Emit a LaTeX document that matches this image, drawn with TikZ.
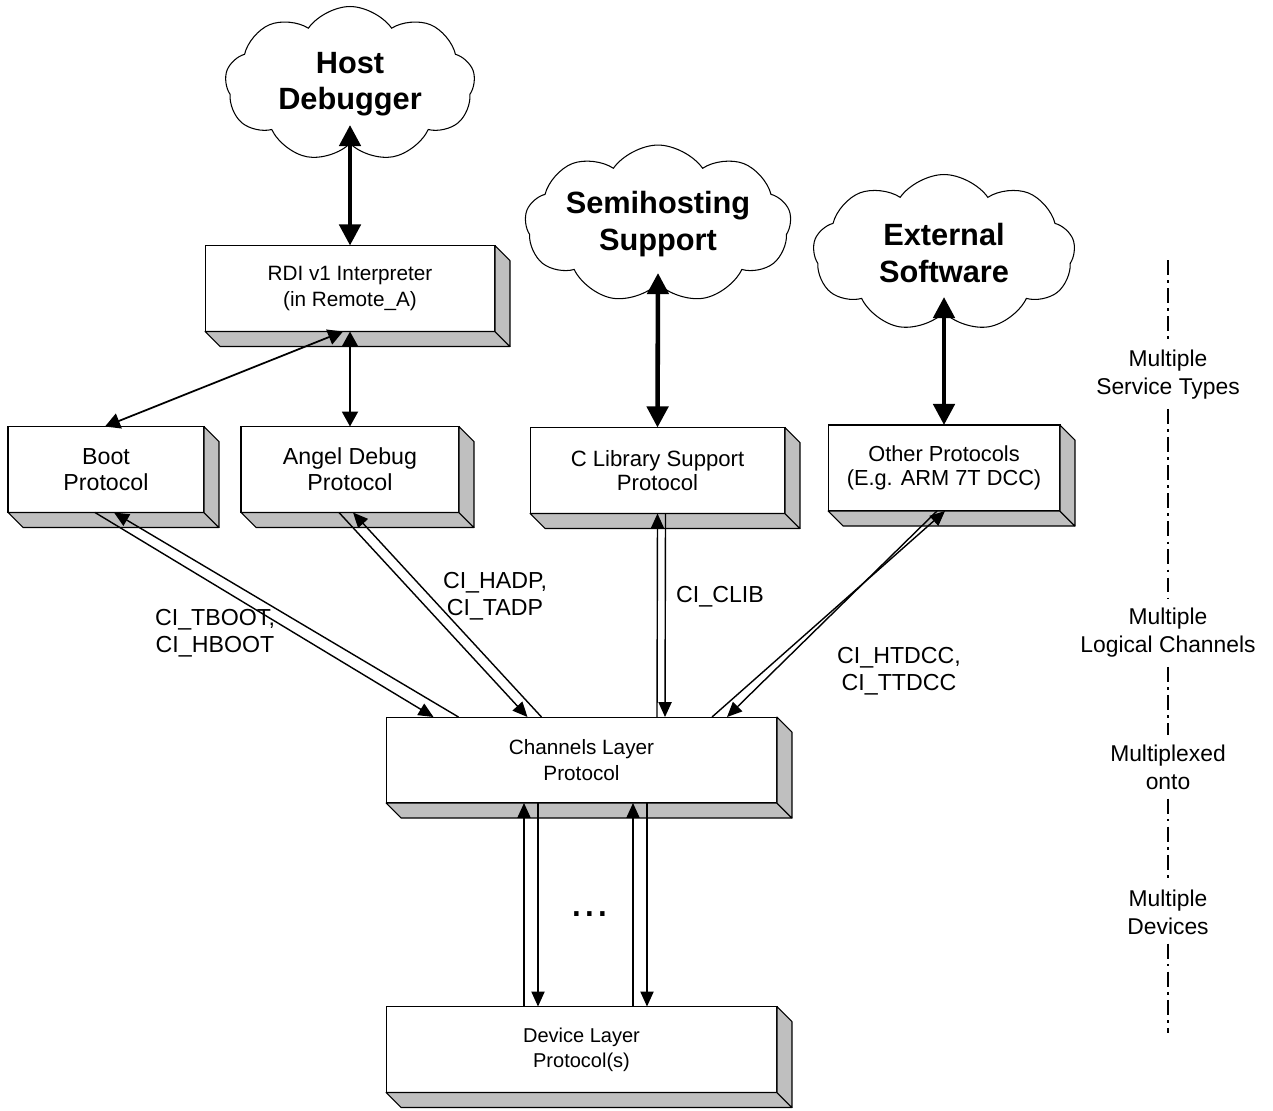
\documentclass[tikz,border=0pt]{standalone}
\usepackage{fontspec}
\setmainfont{Liberation Sans}
\usepackage{tikz}
\usetikzlibrary{shapes.symbols, arrows.meta}
\tikzset{
layerbox/.style={draw, fill=white, line width=0.6pt, outer sep=0pt, minimum height=1.72cm, align=center, font=\fontsize{11.8}{14.4}\selectfont}, % white front face of a protocol box
sideface/.style={draw, fill=black!25, line width=0.6pt, line join=round}, % grey bottom and right faces
cloudnode/.style={cloud, draw, cloud puffs=9, cloud puff arc=110, aspect=1.7, inner sep=0pt, line width=0.6pt, align=center, font=\fontsize{17.5}{20.6}\selectfont\bfseries}, % host side software
bigarrow/.style={{Triangle[length=12pt,width=12pt]}-{Triangle[length=12pt,width=12pt]}, line width=2.6pt},
duplex/.style={{Triangle[length=8.5pt,width=9pt]}-{Triangle[length=8.5pt,width=9pt]}, line width=1pt},
channel/.style={-{Triangle[length=8.5pt,width=7.5pt]}, line width=0.8pt}, % one direction of a logical channel
chlabel/.style={align=center, font=\fontsize{13.2}{15.6}\selectfont},
layername/.style={align=center, inner sep=5pt, font=\fontsize{13}{16}\selectfont},
dashdot line/.style={line width=0.9pt, dash pattern=on 8.5pt off 3pt on 1.5pt off 3pt},
}
\begin{document}
\begin{tikzpicture}[x=0.02cm, y=-0.02cm]
\useasboundingbox (0,0) rectangle (1273,1110);

\node[cloudnode, minimum width=5cm, minimum height=3.1cm] (host) at (350,84) {Host\\Debugger};
\node[cloudnode, aspect=2.2, minimum width=5.2cm, minimum height=2.9cm] (semi) at (658,224) {Semihosting\\Support};
\node[cloudnode, minimum width=5.24cm, minimum height=3.14cm] (ext) at (944,253) {External\\Software};

\node[layerbox, minimum width=5.8cm] (rdi) at (350,288.5) {RDI v1 Interpreter\\(in Remote\_A)};
\node[layerbox, minimum width=3.92cm, font=\fontsize{13.2}{15}\selectfont] (boot) at (106,469.5) {Boot\\Protocol};
\node[layerbox, minimum width=4.36cm, font=\fontsize{13.2}{15}\selectfont] (angel) at (350,469.5) {Angel Debug\\Protocol};
\node[layerbox, minimum width=5.1cm, font=\fontsize{12.6}{14}\selectfont] (clib) at (657.5,470.5) {C Library Support\\Protocol};
\node[layerbox, minimum width=4.64cm, font=\fontsize{12.4}{14}\selectfont] (other) at (944,468) {Other Protocols\\(E.g. ARM 7T DCC)};
\node[layerbox, minimum width=7.82cm] (chan) at (581.5,760) {Channels Layer\\Protocol};
\node[layerbox, minimum width=7.82cm, font=\fontsize{11.4}{14.2}\selectfont] (dev) at (581.5,1049.5) {Device Layer\\Protocol(s)};

\foreach \n in {rdi,boot,angel,clib,other,chan,dev} {
  \draw[sideface] (\n.south west) -- ([shift={(15,15)}]\n.south west) -- ([shift={(15,15)}]\n.south east) -- (\n.south east) -- cycle;
  \draw[sideface] (\n.north east) -- ([shift={(15,15)}]\n.north east) -- ([shift={(15,15)}]\n.south east) -- (\n.south east) -- cycle;
}

\draw[bigarrow] ([shift={(0,41)}]host.center) -- (rdi.north);
\draw[bigarrow] ([shift={(0,49)}]semi.center) -- (clib.north);
\draw[bigarrow] ([shift={(0,44)}]ext.center) -- (other.north);

\draw[duplex] ([shift={(-7,0)}]rdi.south) -- ([shift={(-1,0)}]boot.north);
\draw[duplex, line width=1.4pt] (rdi.south) -- (angel.north);

\draw[channel] ([shift={(-11,0)}]boot.south) -- ([shift={(-148,0)}]chan.north);
\draw[channel] ([shift={(-123,0)}]chan.north) -- ([shift={(8,0)}]boot.south);
\draw[channel] ([shift={(-11,0)}]angel.south) -- ([shift={(-54,0)}]chan.north);
\draw[channel] ([shift={(-40,0)}]chan.north) -- ([shift={(3,0)}]angel.south);
\draw[channel] ([shift={(75.5,0)}]chan.north) -- ([shift={(0,0)}]clib.south);
\draw[channel] ([shift={(8,0)}]clib.south) -- ([shift={(83.5,0)}]chan.north);
\draw[channel] ([shift={(130.5,0)}]chan.north) -- ([shift={(1,0)}]other.south);
\draw[channel] ([shift={(-7,0)}]other.south) -- ([shift={(145.5,0)}]chan.north);

\foreach \dx in {-57.5,51.5} {
  \draw[channel] ([shift={(\dx,0)}]dev.north) -- ([shift={(\dx,0)}]chan.south);
  \draw[channel] ([shift={(\dx+14,0)}]chan.south) -- ([shift={(\dx+14,0)}]dev.north);
}
\node (dots) at (590,914) {\fontsize{26}{26}\selectfont ...};

\node[chlabel] (lboot) at (215,633) {CI\_TBOOT,\\CI\_HBOOT};
\node[chlabel] (ladp) at (495,596) {CI\_HADP,\\CI\_TADP};
\node[chlabel] (lclib) at (720,597) {CI\_CLIB};
\node[chlabel] (ldcc) at (899,671) {CI\_HTDCC,\\CI\_TTDCC};

\coordinate (axtop) at (1168,260);
\coordinate (axbot) at (1168,1033);
\node[layername] (svc) at (1168,375) {Multiple\\Service Types};
\node[layername] (lgc) at (1168,633) {Multiple\\Logical Channels};
\node[layername] (mux) at (1168,767) {Multiplexed\\onto};
\node[layername] (dvs) at (1168,912) {Multiple\\Devices};
\draw[dashdot line] (axtop) -- (svc) (svc) -- (lgc) (lgc) -- (mux) (mux) -- (dvs) (dvs) -- (axbot);
\end{tikzpicture}
\end{document}
